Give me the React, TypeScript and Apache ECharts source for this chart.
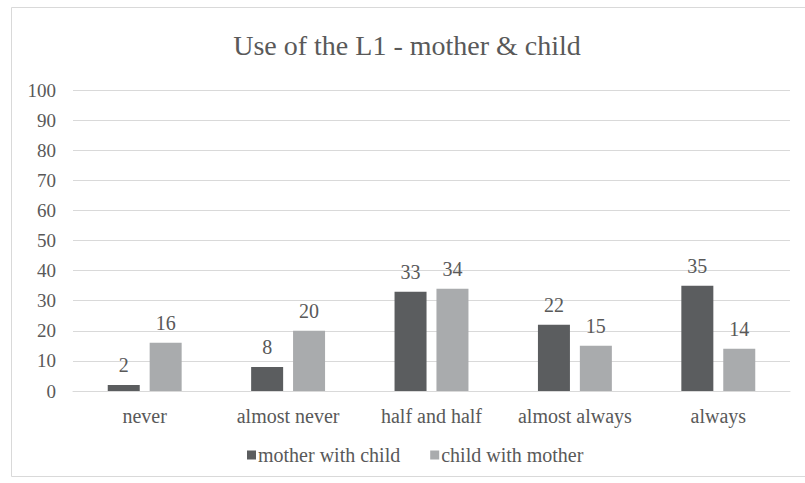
import React, { useEffect, useRef } from "react";
import * as echarts from "echarts";

const categories = ["never", "almost never", "half and half", "almost always", "always"];
const motherWithChild = [2, 8, 33, 22, 35];
const childWithMother = [16, 20, 34, 15, 14];
const seriesNames = ["mother with child", "child with mother"];
const yMin = 0;
const yMax = 100;
const yInterval = 10;

const FONT = "Liberation Serif";
const TEXT = "#595959";

export default function App() {
  const ref = useRef<HTMLDivElement>(null);
  useEffect(() => {
    if (!ref.current) return;
    const chart = echarts.init(ref.current, undefined, { renderer: "svg" });
    const labelCfg = {
      show: true,
      position: "top" as const,
      distance: 10,
      color: TEXT,
      fontFamily: FONT,
      fontSize: 20,
    };
    chart.setOption({
      animation: false,
      backgroundColor: "#ffffff",
      textStyle: { fontFamily: FONT },
      graphic: [
        {
          type: "rect",
          shape: { x: 11.5, y: 7.5, width: 800, height: 469 },
          style: { fill: "none", stroke: "#d9d9d9", lineWidth: 1 },
          silent: true,
        },
      ],
      title: {
        text: "Use of the L1 - mother & child",
        left: 402,
        textAlign: "center",
        top: 26,
        textStyle: { fontFamily: FONT, fontSize: 28, fontWeight: "normal", color: TEXT },
      },
      legend: {
        data: seriesNames,
        bottom: 13,
        left: 242,
        itemWidth: 9,
        itemHeight: 9,
        itemGap: 30,
        icon: "rect",
        textStyle: { fontFamily: FONT, fontSize: 20, color: TEXT, padding: [0, 0, 0, -3] },
      },
      grid: { left: 73, right: 15, top: 90, bottom: 92, containLabel: false },
      xAxis: {
        type: "category",
        data: categories,
        axisLine: { show: true, lineStyle: { color: "#d9d9d9" } },
        axisTick: { show: false },
        axisLabel: { color: TEXT, fontFamily: FONT, fontSize: 20, margin: 15, interval: 0 },
      },
      yAxis: {
        type: "value",
        min: yMin,
        max: yMax,
        interval: yInterval,
        axisLine: { show: false },
        axisTick: { show: false },
        splitLine: { lineStyle: { color: "#d9d9d9" } },
        axisLabel: { color: TEXT, fontFamily: FONT, fontSize: 19, margin: 17 },
      },
      series: [
        {
          name: seriesNames[0],
          type: "bar",
          data: motherWithChild,
          barWidth: 32,
          barGap: "31%",
          itemStyle: { color: "#5b5d5f" },
          label: labelCfg,
        },
        {
          name: seriesNames[1],
          type: "bar",
          data: childWithMother,
          barWidth: 32,
          itemStyle: { color: "#a9abad" },
          label: labelCfg,
        },
      ],
    });
    return () => chart.dispose();
  }, []);
  return (
    <div
      ref={ref}
      style={{ position: "fixed", left: 0, top: 0, width: 805, height: 483 }}
    />
  );
}
